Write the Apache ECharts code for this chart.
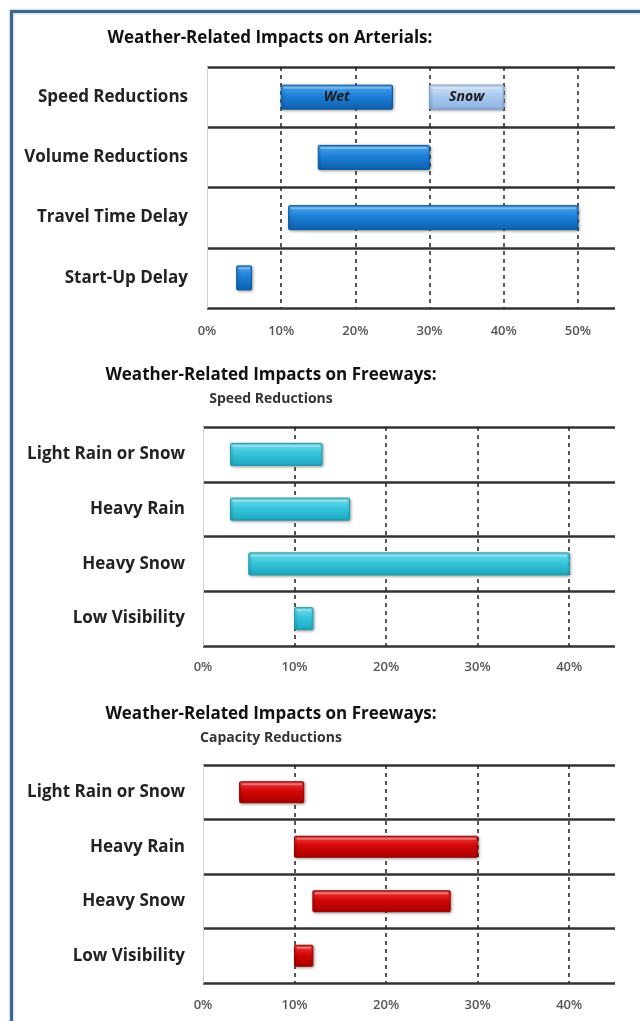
<!DOCTYPE html>
<html>
<head>
<meta charset="utf-8">
<script src="https://cdn.jsdelivr.net/npm/echarts@6/dist/echarts.min.js"></script>
<style>
html,body{margin:0;padding:0;background:#fff;}
#c{width:640px;height:1021px;}
</style>
</head>
<body>
<div id="c"></div>
<script>
// ---- data ----
const arterialCats = ['Speed Reductions', 'Volume Reductions', 'Travel Time Delay', 'Start-Up Delay'];
const arterialWetStart = [10, 15, 11, 4];
const arterialWetEnd = [25, 30, 50, 6];
const arterialWetLabel = ['Wet', '', '', ''];
const arterialSnowStart = [30];
const arterialSnowEnd = [40];
const arterialSnowLabel = ['Snow'];

const freewayCats = ['Light Rain or Snow', 'Heavy Rain', 'Heavy Snow', 'Low Visibility'];
const speedStart = [3, 3, 5, 10];
const speedEnd = [13, 16, 40, 12];
const capacityStart = [4, 10, 12, 10];
const capacityEnd = [11, 30, 27, 12];

const arterialTicks = [0, 10, 20, 30, 40, 50];
const freewayTicks = [0, 10, 20, 30, 40];

const titles = [
  {text: 'Weather-Related Impacts on Arterials:', sub: ''},
  {text: 'Weather-Related Impacts on Freeways:', sub: 'Speed Reductions'},
  {text: 'Weather-Related Impacts on Freeways:', sub: 'Capacity Reductions'}
];

// ---- build ----
const chart = echarts.init(document.getElementById('c'), null, {renderer: 'canvas'});
const FONT = '"Open Sans", "DejaVu Sans", sans-serif';

function grad(c1, c2, c3) {
  return new echarts.graphic.LinearGradient(0, 0, 0, 1, [
    {offset: 0, color: c1}, {offset: 0.45, color: c2}, {offset: 1, color: c3}
  ]);
}
const styles = {
  wet: {fill: () => grad('#4aa6f0', '#1d80d8', '#0d5fae'), stroke: '#0b5aa3'},
  snow: {fill: () => grad('#d6e6fa', '#a9c9f0', '#8db3e2'), stroke: '#7aa2d4'},
  cyan: {fill: () => grad('#74e0f0', '#36c6dc', '#1ea8bf'), stroke: '#1a9db3'},
  red: {fill: () => grad('#f04040', '#d40606', '#a80000'), stroke: '#9c0000'}
};

function makeRender(styleKey, barH) {
  return function (params, api) {
    const cat = api.value(0);
    const s = api.coord([api.value(1), cat]);
    const e = api.coord([api.value(2), cat]);
    const st = styles[styleKey];
    const children = [{
      type: 'rect',
      shape: {x: s[0], y: s[1] - barH / 2, width: e[0] - s[0], height: barH, r: 1},
      style: {fill: st.fill(), stroke: st.stroke, lineWidth: 1,
        shadowBlur: 3, shadowColor: 'rgba(0,0,0,0.35)', shadowOffsetY: 1, shadowOffsetX: 1}
    }, {
      type: 'rect',
      shape: {x: s[0] + 2, y: s[1] - barH / 2 + 1.5, width: Math.max(0, e[0] - s[0] - 4), height: 2},
      style: {fill: 'rgba(255,255,255,0.35)'}
    }];
    const lbl = api.value(3);
    if (lbl) {
      children.push({
        type: 'text',
        style: {text: lbl, x: (s[0] + e[0]) / 2, y: s[1], align: 'center', verticalAlign: 'middle',
          font: 'italic bold 14px ' + FONT, fill: '#1a1a1a'}
      });
    }
    return {type: 'group', children: children};
  };
}

function zip(cats, st, en, lb) {
  return st.map((v, i) => [i, v, en[i], lb ? lb[i] : '']);
}

const grids = [
  {left: 207, right: 25, top: 67, height: 241, max: 55, ticks: arterialTicks, labelMargin: 17, catMargin: 19, cats: arterialCats},
  {left: 203, right: 25, top: 427, height: 219, max: 45, ticks: freewayTicks, labelMargin: 15, catMargin: 18, cats: freewayCats},
  {left: 203, right: 25, top: 765, height: 218, max: 45, ticks: freewayTicks, labelMargin: 16, catMargin: 18, cats: freewayCats}
];

const titleStyle = {fontFamily: FONT, fontWeight: 'bold', fontSize: 17, color: '#111'};
const subStyle = {fontFamily: FONT, fontWeight: 'bold', fontSize: 14, color: '#333'};

const option = {
  backgroundColor: '#fff',
  animation: false,
  graphic: [{
    type: 'rect', z: 100,
    shape: {x: 11.5, y: 11.5, width: 800, height: 1200},
    style: {fill: 'none', stroke: '#3c6594', lineWidth: 3, shadowBlur: 3, shadowColor: 'rgba(0,0,0,0.35)'}
  }],
  title: [
    {text: titles[0].text, left: 265, textAlign: 'center', top: 25, textStyle: titleStyle},
    {text: titles[1].text, subtext: titles[1].sub, left: 266, textAlign: 'center', top: 362, itemGap: 8,
      textStyle: titleStyle, subtextStyle: subStyle},
    {text: titles[2].text, subtext: titles[2].sub, left: 266, textAlign: 'center', top: 701, itemGap: 8,
      textStyle: titleStyle, subtextStyle: subStyle}
  ],
  grid: grids.map(g => ({left: g.left, right: g.right, top: g.top, height: g.height, containLabel: false})),
  xAxis: grids.map((g, i) => ({
    type: 'value', gridIndex: i, min: 0, max: g.max, interval: 10,
    axisLine: {show: false}, axisTick: {show: false},
    axisLabel: {margin: g.labelMargin, fontFamily: FONT, fontWeight: 600, fontSize: 13, color: '#555',
      formatter: v => (g.ticks.indexOf(v) >= 0 ? v + '%' : '')},
    splitLine: {show: true, showMinLine: false, showMaxLine: false,
      lineStyle: {type: [4, 4], color: '#222', width: 1.5}}
  })),
  yAxis: grids.map((g, i) => ({
    type: 'category', gridIndex: i, data: g.cats, inverse: true,
    axisLine: {show: true, lineStyle: {color: '#d0d0d0', width: 1}},
    axisTick: {show: false},
    axisLabel: {margin: g.catMargin, fontFamily: FONT, fontWeight: 'bold', fontSize: 17, color: '#222'},
    splitLine: {show: true, lineStyle: {color: '#333', width: 2.5}}
  })),
  series: [
    {type: 'custom', xAxisIndex: 0, yAxisIndex: 0, renderItem: makeRender('wet', 24),
      encode: {x: [1, 2], y: 0}, data: zip(arterialCats, arterialWetStart, arterialWetEnd, arterialWetLabel)},
    {type: 'custom', xAxisIndex: 0, yAxisIndex: 0, renderItem: makeRender('snow', 24),
      encode: {x: [1, 2], y: 0}, data: zip(arterialCats, arterialSnowStart, arterialSnowEnd, arterialSnowLabel)},
    {type: 'custom', xAxisIndex: 1, yAxisIndex: 1, renderItem: makeRender('cyan', 22),
      encode: {x: [1, 2], y: 0}, data: zip(freewayCats, speedStart, speedEnd)},
    {type: 'custom', xAxisIndex: 2, yAxisIndex: 2, renderItem: makeRender('red', 21),
      encode: {x: [1, 2], y: 0}, data: zip(freewayCats, capacityStart, capacityEnd)}
  ]
};
chart.setOption(option);
</script>
</body>
</html>
